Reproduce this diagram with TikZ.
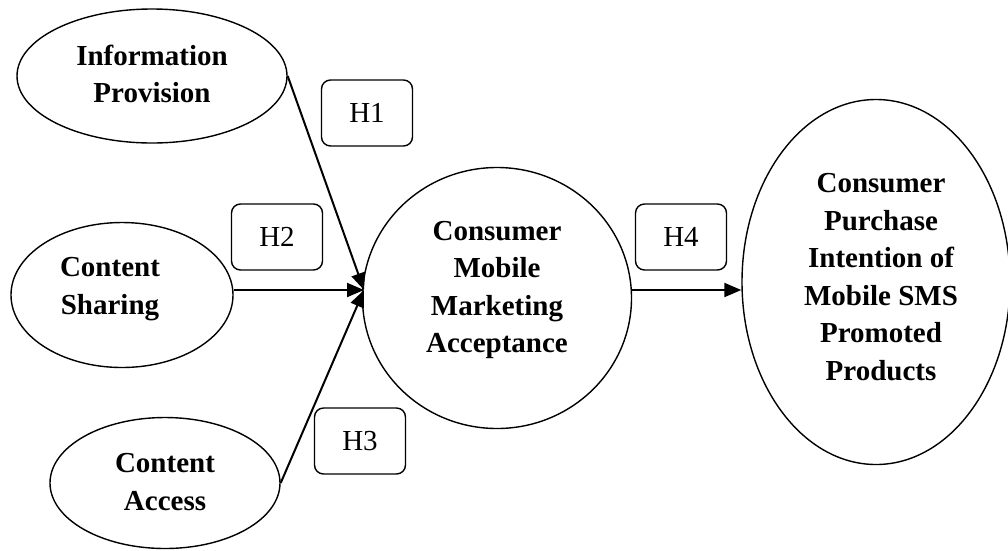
\documentclass[tikz,border=0pt]{standalone}
\usepackage{fontspec}
\setmainfont{Liberation Serif}
\usetikzlibrary{arrows.meta,shapes.geometric}
\begin{document}
\begin{tikzpicture}[x=1pt,y=-1pt,
  ell/.style={draw,ellipse,line width=1.4pt,inner sep=0pt},
  lbl/.style={align=center,font=\bfseries\fontsize{29}{37.5}\selectfont,inner sep=0pt},
  hbox/.style={draw,rounded corners=9pt,line width=1.4pt,minimum width=91pt,minimum height=66pt,inner sep=0pt,font=\fontsize{29}{35}\selectfont},
  conn/.style={line width=2pt,-{Triangle[length=17pt,width=14pt]}}]
\useasboundingbox (0,0) rectangle (1008,550);
% ellipses
\node[ell,minimum width=270pt,minimum height=134pt] (ip) at (152,76) {};
\node[ell,minimum width=222pt,minimum height=145pt] (cs) at (122,295) {};
\node[ell,minimum width=230pt,minimum height=131pt] (ca) at (165,483) {};
\node[ell,minimum width=269pt,minimum height=261pt] (cm) at (497,298) {};
\node[ell,minimum width=268pt,minimum height=365pt] (pi) at (876,282) {};
% texts
\node[lbl] (tip) at (152,74) {Information\\Provision};
\node[lbl] (tcs) at (110,289) {Content\\Sharing};
\node[lbl] (tca) at (165,482) {Content\\Access};
\node[lbl] (tcm) at (497,290) {Consumer\\Mobile\\Marketing\\Acceptance};
\node[lbl] (tpi) at (881,277) {Consumer\\Purchase\\Intention of\\Mobile SMS\\Promoted\\Products};
% hypothesis boxes
\node[hbox] (h1) at (367,113) {H1};
\node[hbox] (h2) at (277,237) {H2};
\node[hbox] (h3) at (360,441) {H3};
\node[hbox] (h4) at (681,237) {H4};
% connectors
\coordinate (meet) at (364,290);
\draw[conn] (ip.east) -- (meet);
\draw[conn] (cs.east |- meet) -- (meet);
\draw[conn] (ca.east) -- (meet);
\draw[conn] (cm.east |- meet) -- (pi.west |- meet);
\end{tikzpicture}
\end{document}
